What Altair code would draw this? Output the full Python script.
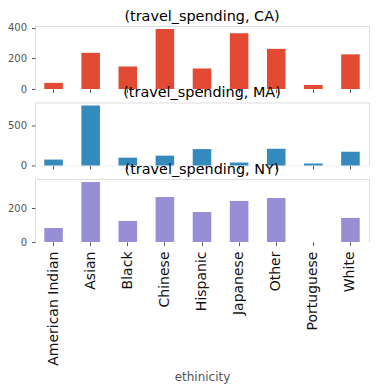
import altair as alt
import pandas as pd

ethnicities = ["American Indian", "Asian", "Black", "Chinese", "Hispanic",
               "Japanese", "Other", "Portuguese", "White"]
ca_values = [40, 236, 147, 392, 134, 364, 262, 26, 226]
ma_values = [74, 750, 98, 123, 205, 37, 209, 25, 172]
ny_values = [83, 356, 125, 267, 178, 244, 261, 0, 143]
titles = ["(travel_spending, CA)", "(travel_spending, MA)", "(travel_spending, NY)"]
colors = ["#E24A33", "#348ABD", "#988ED5"]
y_domains = [[0, 411], [0, 787], [0, 374]]
y_ticks = [[0, 200, 400], [0, 500], [0, 200]]

W, H = 334, 63
GRAY = "#555555"


def panel(values, title, color, ydom, yticks, bottom):
    df = pd.DataFrame({"ethnicity": ethnicities, "value": values})
    if bottom:
        xaxis = alt.Axis(title="ethinicity", labelAngle=270, labelFontSize=14,
                         labelColor="#111111", labelPadding=5.5, labelAlign="right",
                         labelBaseline="middle",
                         titleFontSize=12, titleColor=GRAY, titleFontWeight="normal",
                         titlePadding=6, bandPosition=0.5, grid=True,
                         gridColor="white", gridWidth=1, tickColor=GRAY,
                         tickSize=3.5, domain=False, labelFont="DejaVu Sans",
                         titleFont="DejaVu Sans")
    else:
        xaxis = alt.Axis(title=None, labels=False, bandPosition=0.5, grid=True,
                         gridColor="white", gridWidth=1, tickColor=GRAY,
                         tickSize=3.5, domain=False)
    bars = alt.Chart(df).mark_bar(color=color).encode(
        x=alt.X("ethnicity:N", sort=ethnicities, axis=xaxis,
                scale=alt.Scale(paddingInner=0.5, paddingOuter=0.25)),
        y=alt.Y("value:Q", scale=alt.Scale(domain=ydom, nice=False, zero=True),
                axis=alt.Axis(title=None, values=yticks, grid=True, gridColor="white",
                              gridWidth=1, tickColor=GRAY, tickSize=3.5, domain=False,
                              labelColor=GRAY, labelFontSize=10, labelPadding=5,
                              labelFont="DejaVu Sans")),
    )
    txt = alt.Chart(pd.DataFrame({"t": [title]})).mark_text(
        fontSize=14.4, font="DejaVu Sans", color="#000000", baseline="alphabetic",
        align="center"
    ).encode(x=alt.value(W / 2), y=alt.value(-5.5), text="t:N")
    return alt.layer(bars, txt).properties(width=W, height=H)


charts = [
    panel(ca_values, titles[0], colors[0], y_domains[0], y_ticks[0], False),
    panel(ma_values, titles[1], colors[1], y_domains[1], y_ticks[1], False),
    panel(ny_values, titles[2], colors[2], y_domains[2], y_ticks[2], True),
]

chart = alt.vconcat(*charts, spacing=13.5, bounds="flush").resolve_scale(
    y="independent"
).properties(
    padding={"left": 6, "top": 8, "right": 5, "bottom": 5}
).configure_view(
    fill="#E5E5E5", stroke="transparent"
).configure(background="white")

chart.save("out.html", embed_options={"renderer": "svg", "actions": False})
